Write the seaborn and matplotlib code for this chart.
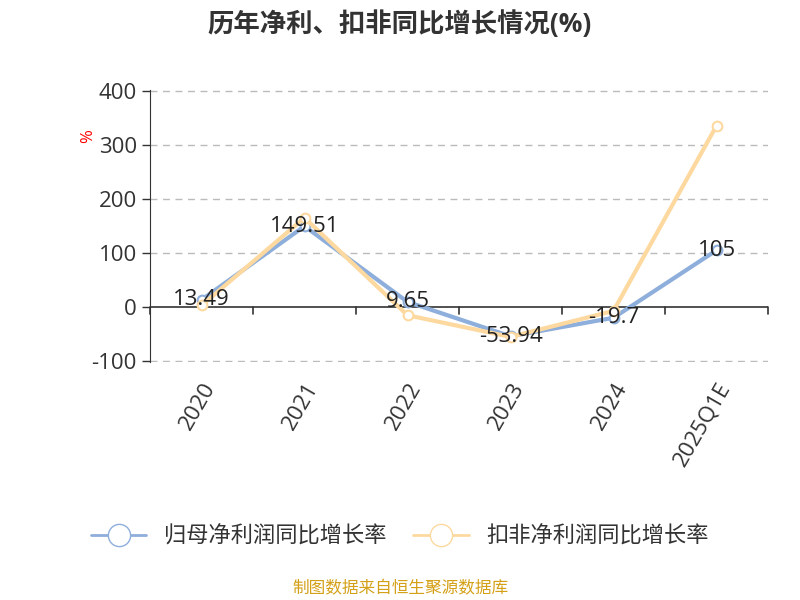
import matplotlib
matplotlib.use("Agg")
import matplotlib.pyplot as plt
import seaborn as sns
import pandas as pd

categories = ["2020", "2021", "2022", "2023", "2024", "2025Q1E"]
net_profit = [13.49, 149.51, 9.65, -53.94, -19.7, 105]
deducted = [3, 165, -15, -55, -7, 335]
labels = ["13.49", "149.51", "9.65", "-53.94", "-19.7", "105"]

sns.set_style("white")
plt.rcParams['font.family'] = ['Open Sans', 'Noto Sans CJK SC', 'DejaVu Sans']
plt.rcParams['axes.unicode_minus'] = False

fig = plt.figure(figsize=(8, 6), dpi=100)
ax = fig.add_axes([0.1875, 0.397, 0.7725, 0.453])
df = pd.DataFrame({"x": range(len(categories)), "a": net_profit, "b": deducted})
blue, orange = "#8eaedb", "#fdd9a0"
sns.lineplot(data=df, x="x", y="a", ax=ax, color=blue, lw=3, marker="o", ms=7,
             mfc="white", mec=blue, mew=1.5, zorder=3)
sns.lineplot(data=df, x="x", y="b", ax=ax, color=orange, lw=3, marker="o", ms=7,
             mfc="white", mec=orange, mew=1.5, zorder=4)
for i, t in enumerate(labels):
    ax.text(i, net_profit[i], t, ha="center", va="center", fontsize=16, color="#222", zorder=5)

ax.set_xlim(-0.5, 5.5)
ax.set_ylim(-101, 401)
ax.set_yticks([-100, 0, 100, 200, 300, 400])
ax.set_xticks(range(6))
ax.set_xticklabels(categories, rotation=60, fontsize=16, color="#333",
                   ha="right", rotation_mode="anchor")
ax.tick_params(axis="y", labelsize=16, colors="#333", length=6, left=True, width=1)
ax.tick_params(axis="x", length=0, pad=12)
for s in ["top", "right", "bottom"]:
    ax.spines[s].set_visible(False)
ax.spines["left"].set_color("#333")
ax.axhline(0, color="#333", lw=1.2, zorder=2)
for b in [-0.5 + k for k in range(7)]:
    ax.plot([b, b], [0, -12], color="#333", lw=1.2, clip_on=False)
for y in [-100, 100, 200, 300, 400]:
    ax.axhline(y, color="#bbb", lw=1, ls=(0, (5, 4)), zorder=1)
ax.set_xlabel(""); ax.set_ylabel("")
ax.text(-0.1, 0.82, "%", transform=ax.transAxes, color="red", fontsize=12, rotation=90, ha="center")

fig.text(0.5, 0.96, "历年净利、扣非同比增长情况(%)", ha="center", va="center",
         fontsize=19, fontweight="bold", color="#333")
from matplotlib.lines import Line2D
h = [Line2D([], [], color=blue, lw=2, marker="o", ms=16, mfc="white", mec=blue),
     Line2D([], [], color=orange, lw=2, marker="o", ms=16, mfc="white", mec=orange)]
fig.legend(h, ["归母净利润同比增长率", "扣非净利润同比增长率"], loc="center",
           bbox_to_anchor=(0.5, 0.105), ncol=2, frameon=False, fontsize=16,
           handlelength=2.5, columnspacing=1.2, labelcolor="#333")
fig.text(0.5, 0.018, "制图数据来自恒生聚源数据库", ha="center", va="center", fontsize=12, color="#d4a017")
fig.savefig("out.png", dpi=100)
